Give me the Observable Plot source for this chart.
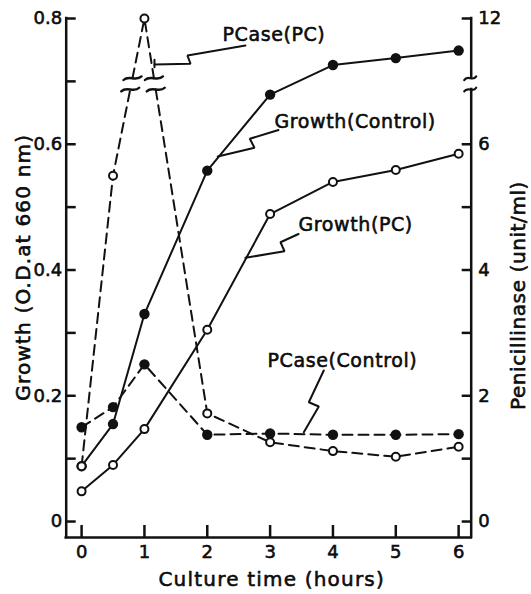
<!DOCTYPE html>
<html><head><meta charset="utf-8">
<script src="https://cdn.jsdelivr.net/npm/d3@7"></script>
<script src="https://cdn.jsdelivr.net/npm/@observablehq/plot@0.6"></script>
<style>
html,body{margin:0;padding:0;background:#fff;}
#chart svg text{stroke:#000;stroke-width:0.55px;}
</style></head><body><div id="chart"></div>
<script>
// ---- data ----
const time = [0, 0.5, 1, 2, 3, 4, 5, 6];
const growthControl = [0.088, 0.155, 0.330, 0.558, 0.679, 0.726, 0.737, 0.749]; // O.D. 660 nm
const growthPC      = [0.048, 0.090, 0.147, 0.305, 0.489, 0.540, 0.559, 0.585]; // O.D. 660 nm
const pcaseControl  = [1.50, 1.82, 2.50, 1.38, 1.40, 1.38, 1.38, 1.39];          // unit/ml
const pcasePC       = [0.88, 5.50, 12, 1.72, 1.26, 1.12, 1.03, 1.19];             // unit/ml

const xTicks = [0, 1, 2, 3, 4, 5, 6];
const leftTicks = [0, 0.1, 0.2, 0.3, 0.4, 0.5, 0.6, 0.7, 0.8];
const leftTickLabels = ["0", "", "0.2", "", "0.4", "", "0.6", "", "0.8"];
const rightTicks = [0, 1, 2, 3, 4, 5, 6, 12];
const rightTickLabels = ["0", "", "2", "", "4", "", "6", "12"];
const axisBreak = [6.87, 7.05]; // unit/ml, the broken part of the right axis

const xTitle = "Culture time (hours)";
const yLeftTitle = "Growth (O.D.at 660 nm)";
const yRightTitle = "Penicillinase (unit/ml)";

const labelText = ["PCase(PC)", "Growth(Control)", "Growth(PC)", "PCase(Control)"];
const labelTime = [2.242, 3.070, 3.452, 2.958];
const labelOD   = [0.7746, 0.6351, 0.4716, 0.2548];

// zig-zag leader lines (time, O.D.)
const leaderPCasePC       = [[2.608, 0.757], [1.685, 0.741], [1.733, 0.728], [1.160, 0.727]];
const leaderPCasePCEnd    = [[1.160, 0.7343], [1.160, 0.7226]];
const leaderGrowthControl = [[3.133, 0.6227], [2.677, 0.6087], [2.751, 0.5944], [2.167, 0.5805]];
const leaderGrowthPC      = [[3.452, 0.4573], [3.165, 0.4442], [3.229, 0.4299], [2.608, 0.4194]];
const leaderPCaseControl  = [[3.854, 0.2402], [3.616, 0.1897], [3.775, 0.1829], [3.536, 0.1420]];

const xDomain = [-0.245, 6.2];
const yDomain = [-0.0254, 0.8];

// ---- derived ----
// right axis: unit/ml shares the left scale (x 1/10) with a break above 8 units
const unitPos = v => (v > 8 ? v - 4 : v) / 10;
const rec = arr => time.map((t, i) => ({t, y: arr[i]}));
const gcData = rec(growthControl);
const gpData = rec(growthPC);
const pcData = rec(pcaseControl.map(unitPos));
const ppData = rec(pcasePC.map(unitPos));

const bLo = unitPos(axisBreak[0]), bHi = unitPos(axisBreak[1]);
const ppPath = [], breakMarks = [];
ppData.forEach((d, i) => {
  if (i > 0) {
    const p = ppData[i - 1];
    const lo = Math.min(p.y, d.y), hi = Math.max(p.y, d.y);
    if (lo < bLo && hi > bHi) {
      const at = v => p.t + (v - p.y) / (d.y - p.y) * (d.t - p.t);
      const a = p.y < d.y ? bLo : bHi, b = p.y < d.y ? bHi : bLo;
      ppPath.push({t: at(a), y: a}, {t: NaN, y: NaN}, {t: at(b), y: b});
      breakMarks.push({t: at(bLo), y: bLo}, {t: at(bHi), y: bHi});
    }
  }
  ppPath.push(d);
});

const leaders = [];
[leaderPCasePC, leaderPCasePCEnd, leaderGrowthControl, leaderGrowthPC, leaderPCaseControl]
  .forEach((pts, k) => pts.forEach(([t, y]) => leaders.push({k, t, y})));

const labels = labelText.map((s, i) => ({s, t: labelTime[i], y: labelOD[i]}));
const leftMap = new Map(leftTicks.map((v, i) => [v, leftTickLabels[i]]));
const rightPos = rightTicks.map(unitPos);
const rightMap = new Map(rightPos.map((v, i) => [v, rightTickLabels[i]]));

const ink = "#111";
const dash = "10,6";

// wavy break sign, centred on the anchor
const waveShape = {
  draw(ctx, l) {
    const w = l / 2;
    ctx.moveTo(-w, 1.8);
    ctx.bezierCurveTo(-w * 0.4, -3.8, w * 0.4, 3.8, w, -1.8);
  }
};

const chart = Plot.plot({
  width: 531, height: 594,
  marginTop: 18, marginBottom: 57, marginLeft: 65.7, marginRight: 60.3,
  x: {domain: xDomain},
  y: {domain: yDomain},
  style: {fontFamily: "DejaVu Sans", fontSize: "18px", background: "#fff", color: ink},
  marks: [
    // frame lines
    Plot.ruleX([xDomain[0]], {x: d => d, y1: yDomain[0], y2: yDomain[1], stroke: ink, strokeWidth: 2.5, strokeLinecap: "square"}),
    Plot.ruleY([yDomain[0]], {y: d => d, x1: xDomain[0], x2: xDomain[1], stroke: ink, strokeWidth: 2.5, strokeLinecap: "square"}),
    Plot.ruleX([[yDomain[0], bLo], [bHi, yDomain[1]]], {x: () => xDomain[1], y1: d => d[0], y2: d => d[1], stroke: ink, strokeWidth: 2.5, strokeLinecap: "square"}),
    Plot.vector([bLo, bHi], {x: () => xDomain[1], y: d => d, length: 12, shape: waveShape, anchor: "start", dx: -1, stroke: ink, fill: "none", strokeWidth: 2.2}),
    // axes
    Plot.axisX(xTicks, {anchor: "bottom", tickSize: -12, tickPadding: 20, strokeWidth: 2.5, fontSize: 18, label: null, tickFormat: d => String(d)}),
    Plot.axisY(leftTicks, {anchor: "left", tickSize: -10, tickPadding: 14, strokeWidth: 2.5, fontSize: 18, label: null, tickFormat: d => leftMap.get(d)}),
    Plot.axisY(rightPos, {anchor: "right", tickSize: -10, tickPadding: 17, strokeWidth: 2.5, fontSize: 18, label: null, tickFormat: d => rightMap.get(d)}),
    // titles
    Plot.text([xTitle], {text: d => d, frameAnchor: "bottom", textAnchor: "middle", lineAnchor: "middle", dx: 3, dy: 42, fontSize: 20, fill: ink}),
    Plot.text([yLeftTitle], {text: d => d, frameAnchor: "left", textAnchor: "middle", lineAnchor: "middle", rotate: -90, dx: -42.2, dy: -10.8, fontSize: 20, fill: ink}),
    Plot.text([yRightTitle], {text: d => d, frameAnchor: "right", textAnchor: "middle", lineAnchor: "middle", rotate: -90, dx: 47.3, dy: 17.5, fontSize: 20, fill: ink}),
    // series lines
    Plot.line(gcData, {x: "t", y: "y", stroke: ink, strokeWidth: 2}),
    Plot.line(gpData, {x: "t", y: "y", stroke: ink, strokeWidth: 2}),
    Plot.line(pcData, {x: "t", y: "y", stroke: ink, strokeWidth: 2, strokeDasharray: dash}),
    Plot.line(ppPath, {x: "t", y: "y", stroke: ink, strokeWidth: 2, strokeDasharray: dash}),
    Plot.vector(breakMarks, {x: "t", y: "y", length: 18, shape: waveShape, anchor: "start", stroke: ink, fill: "none", strokeWidth: 2.4}),
    // leaders + labels
    Plot.line(leaders, {x: "t", y: "y", z: "k", stroke: ink, strokeWidth: 2, strokeLinejoin: "miter"}),
    Plot.text(labels, {x: "t", y: "y", text: "s", textAnchor: "start", lineAnchor: "middle", fontSize: 19, fill: ink}),
    // markers
    Plot.dot(gcData, {x: "t", y: "y", r: 5.2, fill: ink, stroke: "none"}),
    Plot.dot(pcData, {x: "t", y: "y", r: 5.2, fill: ink, stroke: "none"}),
    Plot.dot(gpData, {x: "t", y: "y", r: 4, fill: "#fff", stroke: ink, strokeWidth: 2}),
    Plot.dot(ppData, {x: "t", y: "y", r: 4, fill: "#fff", stroke: ink, strokeWidth: 2})
  ]
});

const spacing = new Map([[xTitle, "1.2px"], [yLeftTitle, "1.2px"], [yRightTitle, "0.6px"]]);
labelText.forEach(s => spacing.set(s, "0.6px"));
chart.querySelectorAll("text").forEach(t => {
  const v = spacing.get(t.textContent);
  if (v) t.style.letterSpacing = v;
});
document.getElementById("chart").appendChild(chart);
</script></body></html>
